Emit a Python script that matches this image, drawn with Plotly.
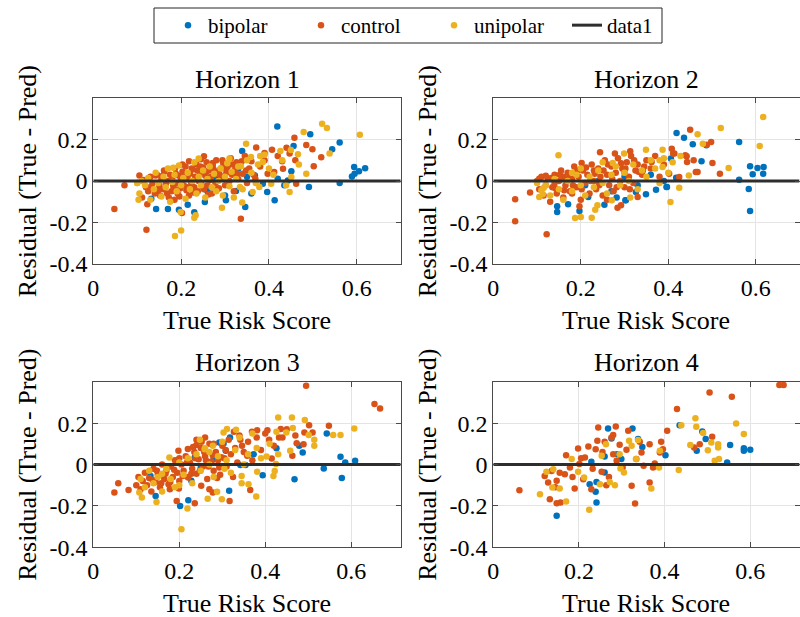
import plotly.graph_objects as go

# ---------------- data (x = True Risk Score, y = Residual) ----------------
groups = ["bipolar", "control", "unipolar"]
colors = {"bipolar": "#0072BD", "control": "#D95319", "unipolar": "#EDB120"}
titles = ["Horizon 1", "Horizon 2", "Horizon 3", "Horizon 4"]
x_ticks = [0, 0.2, 0.4, 0.6]
y_ticks = [-0.4, -0.2, 0, 0.2]
x_limits = [[0, 0.7], [0, 0.7], [0, 0.715], [0, 0.715]]
y_limits = [-0.4, 0.4]
ref_level = 0.0

h1_bipolar = [(0.419,0.263),(0.494,0.225),(0.561,0.185),(0.544,0.153),(0.456,0.169),(0.339,0.145),
    (0.594,0.067),(0.605,0.047),(0.619,0.061),(0.589,0.022),(0.595,0.035),(0.561,-0.010),(0.491,-0.029),
    (0.451,0.047),(0.443,0.003),(0.435,-0.021),(0.413,-0.093),(0.396,-0.053),(0.386,-0.013),(0.368,0.026),
    (0.346,-0.125),(0.325,-0.048),(0.304,0.071),(0.302,-0.093),(0.254,-0.101),(0.230,-0.151),(0.215,-0.114),
    (0.195,-0.138),(0.170,-0.135),(0.143,-0.135),(0.132,-0.085),(0.323,0.027),(0.420,0.011),
    (0.26,-0.05),(0.28,0.01),(0.30,-0.07),(0.35,0.02),(0.36,-0.06),(0.33,0.06)]
h1_control = [(0.048,-0.135),(0.071,-0.021),(0.121,-0.235),(0.105,0.027),(0.111,-0.080),(0.123,-0.112),
    (0.336,-0.182),(0.202,-0.154),(0.458,0.209),(0.485,0.173),(0.499,0.153),(0.519,0.114),(0.502,0.071),
    (0.462,-0.013),(0.447,0.132),(0.430,0.095),(0.407,0.151),(0.371,0.161),(0.390,0.135),(0.412,0.043),
    (0.397,0.035),(0.432,0.059),(0.369,0.011),(0.348,0.051),(0.294,0.100),(0.252,0.119),(0.272,0.087),
    (0.237,0.051),(0.203,0.080),(0.161,0.051),(0.142,0.027),
    (0.115,0.005),(0.12,-0.03),(0.125,-0.05),(0.13,0.02),(0.135,-0.01),(0.14,-0.06),(0.145,0.03),(0.15,-0.02),
    (0.152,-0.07),(0.155,0.01),(0.16,-0.04),(0.162,0.045),(0.165,-0.015),(0.17,0.0),(0.172,-0.08),(0.175,0.03),
    (0.178,-0.05),(0.18,0.015),(0.183,-0.03),(0.186,0.06),(0.19,-0.01),(0.192,-0.06),(0.195,0.025),(0.198,-0.035),
    (0.2,0.005),(0.203,0.045),(0.206,-0.02),(0.21,0.07),(0.212,-0.045),(0.215,0.01),(0.218,-0.07),(0.22,0.035),
    (0.223,-0.01),(0.226,0.055),(0.23,-0.03),(0.232,0.02),(0.235,0.08),(0.238,-0.05),(0.24,0.0),(0.243,0.04),
    (0.246,-0.015),(0.25,0.065),(0.252,-0.04),(0.255,0.025),(0.258,0.09),(0.26,-0.02),(0.263,0.05),(0.266,0.005),
    (0.27,-0.06),(0.272,0.075),(0.275,0.03),(0.278,-0.01),(0.28,0.1),(0.283,0.045),(0.286,-0.035),(0.29,0.06),
    (0.293,0.015),(0.296,0.085),(0.3,-0.02),(0.303,0.04),(0.306,0.07),(0.31,0.0),(0.313,0.11),(0.316,0.03),
    (0.32,-0.05),(0.323,0.055),(0.326,0.09),(0.33,0.01),(0.335,0.075),(0.34,0.035),(0.345,0.12),(0.35,-0.01),
    (0.355,0.06),(0.36,0.095),(0.365,0.03),(0.38,0.07),(0.39,0.1),(0.42,0.12),(0.44,0.16),(0.46,0.1),
    (0.132,-0.025),(0.148,-0.045),(0.158,0.025),(0.168,-0.06),(0.182,-0.02),(0.188,0.035),(0.196,-0.075),
    (0.208,0.02),(0.214,-0.03),(0.224,0.06),(0.228,-0.055),(0.236,0.01),(0.244,0.07),(0.248,-0.025),
    (0.256,0.04),(0.262,-0.065),(0.268,0.02),(0.274,0.055),(0.282,-0.04),(0.288,0.03),(0.298,0.065),
    (0.308,0.045),(0.318,0.08),(0.328,0.035),(0.338,0.095),(0.218,0.095),(0.245,0.105),(0.185,-0.09)]
h1_unipolar = [(0.521,0.276),(0.532,0.255),(0.479,0.236),(0.607,0.223),(0.348,0.180),(0.538,0.132),
    (0.426,0.145),(0.390,0.127),(0.359,0.116),(0.466,0.129),(0.468,0.080),(0.485,0.035),(0.451,0.019),
    (0.447,-0.053),(0.439,-0.021),(0.405,-0.013),(0.378,-0.029),(0.363,-0.053),(0.339,-0.104),(0.334,-0.029),
    (0.293,-0.129),(0.230,-0.177),(0.233,-0.165),(0.200,-0.238),(0.186,-0.265),(0.199,-0.149),(0.103,-0.090),
    (0.100,-0.010),(0.182,0.064),(0.240,0.109),(0.310,0.108),(0.336,0.071),(0.386,0.092),
    (0.1,-0.01),(0.105,-0.06),(0.11,0.0),(0.118,-0.02),(0.125,0.015),(0.13,-0.09),(0.138,-0.04),(0.142,0.04),
    (0.148,-0.01),(0.155,-0.075),(0.16,0.02),(0.165,-0.03),(0.17,0.06),(0.175,-0.1),(0.18,-0.005),(0.185,0.03),
    (0.19,-0.05),(0.195,0.075),(0.2,-0.02),(0.205,0.015),(0.21,-0.085),(0.215,0.04),(0.22,-0.04),(0.225,0.0),
    (0.23,0.09),(0.235,-0.06),(0.24,0.02),(0.245,-0.02),(0.25,0.05),(0.255,-0.08),(0.26,0.01),(0.265,0.07),
    (0.27,-0.03),(0.275,0.035),(0.28,-0.05),(0.285,0.0),(0.29,0.06),(0.295,-0.07),(0.3,0.02),(0.305,0.085),
    (0.31,-0.025),(0.315,0.045),(0.32,-0.08),(0.325,0.01),(0.33,0.07),(0.34,-0.04),(0.35,0.1),(0.36,0.04),
    (0.37,-0.01),(0.375,0.08),(0.38,0.12),(0.4,0.06),(0.41,0.03),(0.43,0.1),(0.45,0.15)]

h2_bipolar = [(0.419,0.231),(0.436,0.209),(0.456,0.177),(0.487,0.172),(0.476,0.095),(0.562,0.188),
    (0.587,0.071),(0.604,0.063),(0.618,0.067),(0.593,0.032),(0.617,0.035),(0.562,0.006),(0.584,-0.039),
    (0.587,-0.145),(0.396,-0.029),(0.406,0.108),(0.372,-0.042),(0.349,-0.064),(0.418,0.016),(0.303,-0.093),
    (0.282,-0.080),(0.254,-0.114),(0.146,-0.122),(0.146,-0.149),(0.171,-0.112),(0.217,-0.077),(0.197,-0.145),
    (0.302,-0.093),(0.326,-0.053),(0.397,-0.029),(0.322,0.092),
    (0.21,-0.02),(0.24,0.0),(0.27,-0.05),(0.30,0.02),(0.33,-0.02),(0.36,0.03),(0.39,0.0)]
h2_control = [(0.050,-0.088),(0.050,-0.194),(0.084,-0.055),(0.122,-0.257),(0.105,0.011),(0.244,0.138),
    (0.278,0.132),(0.313,0.143),(0.202,0.087),(0.284,-0.129),(0.292,-0.117),(0.197,-0.122),(0.330,-0.077),
    (0.408,0.156),(0.414,0.132),(0.450,0.247),(0.442,0.119),(0.458,0.100),(0.463,0.043),(0.501,0.087),
    (0.498,0.188),(0.425,0.019),(0.402,0.035),(0.362,0.092),(0.342,0.051),(0.488,0.175),(0.518,0.035),
    (0.467,0.043),(0.443,0.092),(0.439,0.124),(0.411,0.132),
    (0.1,0.0),(0.105,-0.04),(0.11,0.02),(0.115,-0.07),(0.12,-0.02),(0.125,0.01),(0.13,-0.1),(0.135,-0.03),
    (0.14,0.03),(0.145,-0.06),(0.15,0.0),(0.155,0.05),(0.16,-0.08),(0.165,-0.02),(0.17,0.04),(0.175,-0.05),
    (0.18,0.01),(0.185,0.07),(0.19,-0.03),(0.195,0.02),(0.2,-0.09),(0.205,0.05),(0.21,-0.01),(0.215,0.03),
    (0.22,-0.06),(0.225,0.08),(0.23,0.0),(0.235,-0.04),(0.24,0.06),(0.245,0.02),(0.25,-0.07),(0.255,0.1),
    (0.26,0.03),(0.265,-0.02),(0.27,0.07),(0.275,-0.05),(0.28,0.04),(0.285,0.11),(0.29,0.0),(0.295,0.06),
    (0.3,-0.03),(0.305,0.09),(0.31,0.02),(0.315,0.12),(0.32,-0.01),(0.325,0.05),(0.33,0.08),(0.34,0.03),
    (0.35,0.1),(0.36,0.06),(0.37,0.12),(0.38,0.02),(0.39,0.08),(0.16,0.02),(0.14,-0.01),(0.12,0.025),
    (0.18,-0.06),(0.26,-0.09),(0.3,0.04),(0.23,0.05),
    (0.132,0.015),(0.142,-0.035),(0.152,0.03),(0.162,-0.045),(0.172,0.015),(0.182,-0.02),(0.192,0.05),
    (0.202,-0.04),(0.212,0.065),(0.222,0.0),(0.232,0.035),(0.242,-0.02),(0.252,0.05),(0.262,0.08),
    (0.272,0.01),(0.282,-0.03),(0.292,0.085),(0.302,0.06),(0.312,-0.04),(0.322,0.1),(0.332,0.045),(0.345,0.07)]
h2_unipolar = [(0.617,0.308),(0.609,0.169),(0.520,0.255),(0.467,0.225),(0.479,0.180),(0.538,0.063),
    (0.425,-0.032),(0.405,-0.101),(0.428,0.120),(0.447,0.027),(0.387,0.151),(0.349,0.151),(0.387,0.067),
    (0.380,0.100),(0.149,0.124),(0.113,-0.064),(0.115,-0.034),(0.105,-0.077),(0.187,-0.178),(0.200,-0.173),
    (0.225,-0.177),(0.233,-0.138),(0.238,-0.117),(0.271,-0.093),(0.313,-0.080),(0.299,0.132),(0.273,0.087),
    (0.1,-0.01),(0.11,-0.045),(0.12,-0.02),(0.13,-0.07),(0.14,0.01),(0.15,-0.04),(0.16,-0.09),(0.17,0.0),
    (0.18,-0.05),(0.19,0.03),(0.2,-0.02),(0.21,-0.07),(0.22,0.02),(0.23,-0.03),(0.24,0.05),(0.25,-0.01),
    (0.26,-0.06),(0.27,0.03),(0.28,0.07),(0.29,-0.02),(0.3,0.04),(0.31,0.0),(0.32,0.08),(0.33,-0.04),
    (0.34,0.05),(0.35,0.02),(0.36,0.1),(0.37,0.06),(0.38,-0.01),(0.39,0.11),(0.4,0.04),(0.41,0.09),
    (0.2,0.06),(0.25,0.09),(0.18,0.04)]

h3_bipolar = [(0.543,0.150),(0.575,0.037),(0.586,0.010),(0.609,0.018),(0.536,-0.019),(0.578,-0.065),
    (0.468,-0.071),(0.487,0.058),(0.479,0.090),(0.426,0.079),(0.394,-0.052),(0.373,0.050),(0.354,-0.002),
    (0.342,-0.003),(0.316,-0.127),(0.293,0.106),(0.303,0.102),(0.318,0.131),(0.280,0.026),(0.308,0.066),
    (0.236,0.034),(0.202,-0.200),(0.221,-0.173),(0.228,-0.079),(0.133,-0.055),(0.145,-0.152),(0.250,-0.015)]
h3_control = [(0.495,0.381),(0.654,0.292),(0.667,0.271),(0.049,-0.135),(0.058,-0.090),(0.082,-0.123),
    (0.198,0.066),(0.194,-0.176),(0.236,-0.187),(0.317,-0.176),(0.365,-0.123),(0.502,0.190),(0.491,0.155),
    (0.510,0.155),(0.548,0.187),(0.473,0.103),(0.463,0.042),(0.489,0.098),(0.436,0.171),(0.432,0.131),
    (0.405,0.166),(0.409,0.119),(0.381,0.166),(0.369,0.158),(0.358,0.042),(0.346,0.090),(0.327,0.158),
    (0.342,0.119),(0.415,0.029),(0.293,-0.015),(0.278,-0.135),(0.270,-0.119),(0.251,-0.103),(0.221,-0.063),
    (0.199,-0.116),(0.179,-0.084),(0.240,0.094),
    (0.1,-0.1),(0.105,-0.06),(0.11,-0.12),(0.115,-0.08),(0.12,-0.04),(0.125,-0.1),(0.13,-0.065),(0.135,-0.13),
    (0.14,-0.02),(0.145,-0.085),(0.15,-0.05),(0.155,-0.11),(0.16,0.0),(0.165,-0.07),(0.17,-0.03),(0.175,-0.095),
    (0.18,-0.01),(0.185,-0.06),(0.19,0.02),(0.195,-0.04),(0.2,-0.08),(0.205,0.0),(0.21,-0.03),(0.215,0.04),
    (0.22,-0.06),(0.225,0.01),(0.23,-0.02),(0.235,0.06),(0.24,-0.045),(0.245,0.025),(0.25,0.08),(0.255,-0.01),
    (0.26,0.04),(0.265,-0.07),(0.27,0.1),(0.275,0.015),(0.28,-0.03),(0.285,0.06),(0.29,0.02),(0.295,-0.05),
    (0.3,0.09),(0.305,0.03),(0.31,-0.01),(0.315,0.12),(0.32,0.05),(0.325,-0.06),(0.33,0.08),(0.335,0.01),
    (0.34,0.14),(0.35,0.06),(0.36,0.11),(0.37,0.02),(0.38,0.13),(0.39,0.07),(0.4,0.15),(0.42,0.09),
    (0.44,0.13),(0.45,0.17),(0.47,0.14),(0.24,0.12),(0.22,0.075),(0.26,0.13),(0.28,0.1),(0.2,0.03),
    (0.138,-0.075),(0.148,-0.03),(0.158,-0.09),(0.168,-0.045),(0.178,-0.12),(0.188,-0.025),(0.208,-0.055),
    (0.218,0.01),(0.228,-0.045),(0.238,0.03),(0.248,-0.03),(0.258,0.06),(0.268,-0.01),(0.278,0.045),
    (0.288,-0.065),(0.298,0.035),(0.308,0.07),(0.232,0.085),(0.252,0.11),(0.262,0.02)]
h3_unipolar = [(0.430,0.227),(0.462,0.227),(0.492,0.215),(0.607,0.174),(0.558,0.142),(0.575,0.142),
    (0.514,0.119),(0.514,0.090),(0.501,0.142),(0.458,0.066),(0.425,0.002),(0.422,-0.031),(0.419,-0.055),
    (0.381,-0.035),(0.361,-0.095),(0.379,-0.155),(0.345,-0.090),(0.345,-0.055),(0.299,-0.168),(0.288,-0.132),
    (0.266,-0.165),(0.219,-0.213),(0.205,-0.313),(0.147,-0.181),(0.113,-0.160),(0.107,-0.135),(0.311,0.171),
    (0.332,0.168),(0.303,0.155),(0.426,0.158),(0.464,0.176),(0.449,0.155),(0.403,0.039),(0.248,0.119),
    (0.278,0.090),(0.177,0.034),(0.259,0.074),
    (0.11,-0.07),(0.12,-0.11),(0.13,-0.03),(0.14,-0.09),(0.15,-0.06),(0.16,-0.13),(0.17,-0.02),(0.18,-0.07),
    (0.19,-0.11),(0.2,0.01),(0.21,-0.05),(0.22,0.03),(0.23,-0.09),(0.24,0.05),(0.25,-0.03),(0.26,0.08),
    (0.27,0.0),(0.28,-0.06),(0.29,0.04),(0.3,0.11),(0.31,0.02),(0.32,-0.04),(0.33,0.07),(0.34,0.13),
    (0.35,0.0),(0.36,0.05),(0.37,0.15),(0.38,0.08),(0.39,0.03),(0.41,0.1),(0.43,0.05),(0.2,-0.1),
    (0.16,-0.045),(0.27,0.06),(0.305,-0.02)]

h4_bipolar = [(0.148,-0.248),(0.225,-0.095),(0.239,-0.132),(0.241,-0.184),(0.229,0.013),(0.241,-0.084),
    (0.260,-0.039),(0.260,0.039),(0.268,0.174),(0.276,0.126),(0.299,0.026),(0.289,0.050),(0.325,0.174),
    (0.348,0.085),(0.338,0.123),(0.402,0.045),(0.435,0.190),(0.488,0.160),(0.496,0.123),(0.475,0.066),
    (0.553,0.094),(0.585,0.079),(0.585,0.066),(0.600,0.071),(0.546,0.010)]
h4_control = [(0.061,-0.124),(0.132,-0.168),(0.148,-0.187),(0.157,-0.184),(0.120,-0.055),(0.128,-0.087),
    (0.136,-0.031),(0.148,-0.079),(0.170,0.045),(0.167,-0.047),(0.179,-0.015),(0.190,-0.116),(0.198,0.077),
    (0.201,0.002),(0.210,-0.071),(0.214,0.034),(0.222,0.087),(0.229,-0.119),(0.239,0.074),(0.243,0.115),
    (0.245,0.179),(0.253,-0.035),(0.260,0.110),(0.264,-0.100),(0.276,0.131),(0.286,0.184),(0.280,0.050),
    (0.288,0.018),(0.302,-0.015),(0.311,0.071),(0.315,0.163),(0.323,-0.103),(0.331,-0.189),(0.334,0.026),
    (0.342,0.110),(0.346,0.058),(0.351,-0.006),(0.365,0.098),(0.365,-0.087),(0.373,-0.015),(0.377,0.005),
    (0.392,0.110),(0.396,0.074),(0.406,0.163),(0.429,0.268),(0.505,0.348),(0.557,0.327),(0.668,0.384),
    (0.678,0.384),(0.389,0.058),(0.482,0.098),(0.511,0.134),(0.469,0.082),(0.280,0.142),
    (0.155,-0.04),(0.145,-0.11),(0.185,-0.06),(0.205,0.03),(0.232,-0.02),(0.255,0.06),(0.27,-0.06),(0.295,0.095)]
h4_unipolar = [(0.109,-0.144),(0.170,-0.179),(0.224,-0.219),(0.124,-0.035),(0.140,-0.023),(0.155,-0.116),
    (0.138,-0.111),(0.183,0.026),(0.198,-0.035),(0.212,-0.063),(0.249,-0.095),(0.253,0.042),(0.263,0.098),
    (0.272,-0.084),(0.284,-0.100),(0.295,0.050),(0.297,-0.019),(0.305,-0.039),(0.317,0.115),(0.323,0.090),
    (0.333,0.026),(0.338,0.118),(0.369,-0.116),(0.387,-0.015),(0.389,0.066),(0.433,-0.027),(0.439,0.190),
    (0.472,0.223),(0.474,0.182),(0.490,0.152),(0.567,0.198),(0.585,0.147),(0.460,0.094),(0.501,0.069),
    (0.509,0.106),(0.525,0.098),(0.525,0.082),(0.517,0.018),(0.527,0.026)]

panels = [
    {"bipolar": h1_bipolar, "control": h1_control, "unipolar": h1_unipolar},
    {"bipolar": h2_bipolar, "control": h2_control, "unipolar": h2_unipolar},
    {"bipolar": h3_bipolar, "control": h3_control, "unipolar": h3_unipolar},
    {"bipolar": h4_bipolar, "control": h4_control, "unipolar": h4_unipolar},
]

# ---------------- layout geometry (pixels of an 800x617 canvas) ----------------
W, H = 800, 617
FONT = "Liberation Serif"
x_dom_px = [(93.3, 400.7), (493.3, 799.5)]
y_dom_px = [(98, 264), (381.7, 547.3)]

def px_x(p):
    return p / W

def px_y(p):
    return 1 - p / H

fig = go.Figure()
layout = dict(
    width=W, height=H, margin=dict(l=0, r=0, t=0, b=0, autoexpand=False),
    paper_bgcolor="white", plot_bgcolor="white",
    font=dict(family=FONT, size=24, color="black"),
    showlegend=True,
)
annotations = []
shapes = []

for i in range(4):
    r, c = divmod(i, 2)
    ax = "" if i == 0 else str(i + 1)
    xa, ya = "x" + ax, "y" + ax
    x0, x1 = x_dom_px[c]
    yt, yb = y_dom_px[r]
    common = dict(
        showline=True, linecolor="#4a4a4a", linewidth=1, mirror="ticks",
        ticks="inside", ticklen=5, tickcolor="#4a4a4a", tickwidth=1,
        showgrid=True, gridcolor="#e4e4e4", gridwidth=1, zeroline=False,
        tickfont=dict(family=FONT, size=24, color="black"), automargin=False,
    )
    layout["xaxis" + ax] = dict(common, domain=[px_x(x0), px_x(x1)], range=x_limits[i],
                                tickvals=x_ticks, ticktext=["0", "0.2", "0.4", "0.6"],
                                anchor=ya, ticklabelstandoff=2)
    layout["yaxis" + ax] = dict(common, domain=[px_y(yb), px_y(yt)], range=y_limits,
                                tickvals=y_ticks, ticktext=["-0.4", "-0.2", "0", "0.2"],
                                anchor=xa, ticklabelstandoff=0)
    for g in groups:
        pts = panels[i][g]
        fig.add_trace(go.Scatter(
            x=[p[0] for p in pts], y=[p[1] for p in pts], mode="markers",
            marker=dict(color=colors[g], size=6.5, line=dict(width=0)),
            name=g, legendgroup=g, showlegend=(i == 0), xaxis=xa, yaxis=ya,
        ))
    fig.add_trace(go.Scatter(
        x=x_limits[i], y=[ref_level, ref_level], mode="lines",
        line=dict(color="#2e2e2e", width=3), name="data1", legendgroup="data1",
        showlegend=(i == 0), xaxis=xa, yaxis=ya,
    ))
    xc = (x0 + x1) / 2
    annotations.append(dict(text=titles[i], x=px_x(xc), y=px_y(yt - 19), xref="paper", yref="paper",
                            xanchor="center", yanchor="middle", showarrow=False, borderpad=0,
                            font=dict(family=FONT, size=26, color="black")))
    annotations.append(dict(text="True Risk Score", x=px_x(xc), y=px_y(yb + 56.5), xref="paper", yref="paper",
                            xanchor="center", yanchor="middle", showarrow=False, borderpad=0,
                            font=dict(family=FONT, size=26, color="black")))
    annotations.append(dict(text="Residual (True - Pred)", x=px_x(x0 - 66), y=px_y((yt + yb) / 2),
                            xref="paper", yref="paper", textangle=-90, borderpad=0,
                            xanchor="center", yanchor="middle", showarrow=False,
                            font=dict(family=FONT, size=26, color="black")))

# legend box
shapes.append(dict(type="rect", xref="paper", yref="paper", x0=px_x(154), x1=px_x(662),
                   y0=px_y(43), y1=px_y(8), line=dict(color="#262626", width=1),
                   fillcolor="rgba(0,0,0,0)"))

layout["legend"] = dict(orientation="h", x=px_x(168), y=px_y(25.5), xanchor="left", yanchor="middle",
                        bgcolor="rgba(0,0,0,0)", borderwidth=0, entrywidth=88, entrywidthmode="pixels",
                        font=dict(family=FONT, size=21, color="black"), tracegroupgap=0)
layout["annotations"] = annotations
layout["shapes"] = shapes
fig.update_layout(**layout)
fig.write_html("out.html", config={"displayModeBar": False},
               post_script="document.body.style.margin='0';document.body.style.padding='0';")
